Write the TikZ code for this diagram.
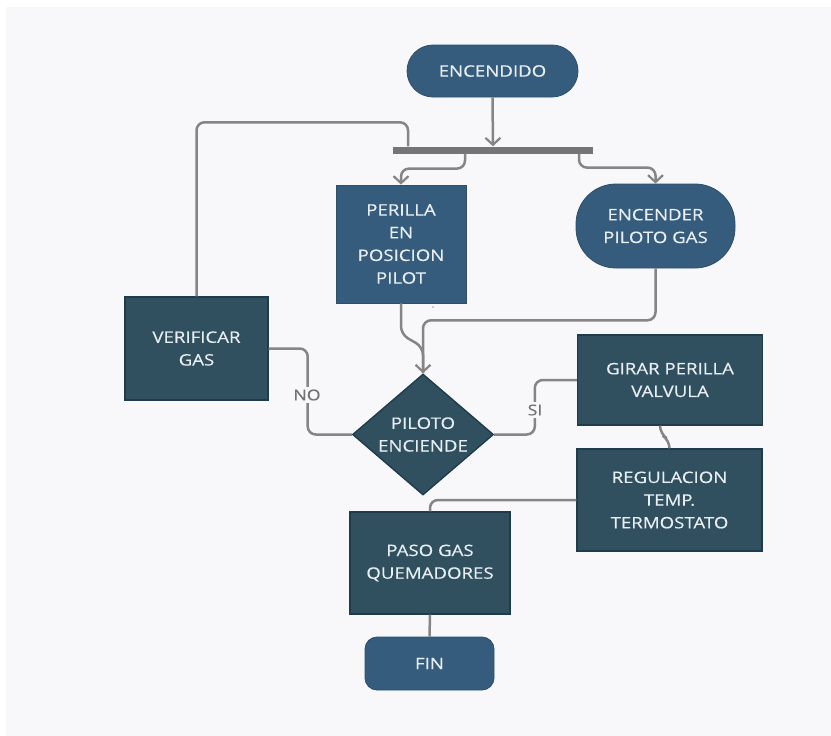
\documentclass[tikz,border=0pt]{standalone}
\usepackage{fontspec}
\setmainfont{Open Sans}[FakeStretch=1.18,FakeBold=0.3]
\usetikzlibrary{arrows.meta,shapes.geometric}
\definecolor{bgc}{HTML}{F8F8FB}
\definecolor{nblue}{HTML}{365C7D}
\definecolor{nteal}{HTML}{30505F}
\definecolor{nborder}{HTML}{203C4B}
\definecolor{lgray}{HTML}{858585}
\definecolor{ntext}{HTML}{E8EEF2}
\tikzset{
  txt/.style={text=ntext, font=\fontsize{15.8}{22.7}\selectfont, align=center, inner sep=0pt},
  bluebox/.style={txt, rectangle, fill=nblue, draw=nblue!85!black, line width=0.8pt},
  tealbox/.style={txt, rectangle, fill=nteal, draw=nborder, line width=1.4pt},
  conn/.style={draw=lgray, line width=2.5pt, rounded corners=8pt},
  arr/.style={-{Straight Barb[length=7pt,width=15pt,line width=2.2pt]}},
  lbl/.style={text=lgray!85!black, font=\fontsize{15}{17}\selectfont, fill=bgc, inner sep=2pt}
}
\begin{document}
\begin{tikzpicture}[x=1pt,y=-1pt]
\useasboundingbox (0,0) rectangle (831,736);
\fill[white] (0,0) rectangle (831,736);
\fill[bgc] (6,7) rectangle (831,736);

\node[bluebox, minimum width=171pt, minimum height=52pt, rounded corners=26pt] (enc) at (492.5,71) {ENCENDIDO};
\node[rectangle, fill=lgray!88!black, minimum width=200pt, minimum height=7pt, inner sep=0pt] (bar) at (493,150) {};
\node[bluebox, minimum width=130pt, minimum height=118pt] (per) at (401,244) {PERILLA\\EN\\POSICION\\PILOT};
\node[bluebox, minimum width=159pt, minimum height=84pt, rounded corners=40pt] (enc2) at (655.5,226) {ENCENDER\\PILOTO GAS};
\node[tealbox, minimum width=143pt, minimum height=103pt] (ver) at (196.5,348.5) {VERIFICAR\\GAS};
\node[tealbox, diamond, aspect=1.165, minimum width=141pt, minimum height=121pt] (dia) at (423,434.5) {PILOTO\\ENCIENDE};
\node[tealbox, minimum width=185pt, minimum height=90pt] (gir) at (670,380) {GIRAR PERILLA\\VALVULA};
\node[tealbox, minimum width=185pt, minimum height=102pt] (reg) at (669.5,500) {REGULACION\\TEMP.\\TERMOSTATO};
\node[tealbox, minimum width=160pt, minimum height=102pt] (paso) at (430,563) {PASO GAS\\QUEMADORES};
\node[bluebox, minimum width=129pt, minimum height=53pt, rounded corners=12pt] (fin) at (429.5,663.5) {FIN};
\node[text=lgray, font=\fontsize{8}{8}\selectfont, inner sep=0pt] (dot) at (433,307) {.};

\draw[conn,arr] (enc.south) -- (bar.north);
\draw[conn,arr] ([xshift=-28pt]bar.south) |- ([yshift=16pt]per.north) -- (per.north);
\draw[conn,arr] ([xshift=86pt]bar.south) |- ([yshift=16pt]enc2.north) -- (enc2.north);
\draw[conn] (ver.north) |- ([xshift=-85pt,yshift=24pt]bar.north) -- ([xshift=-85pt]bar.north);
\draw[conn] (per.south) -- ++(0,31) -- (dia.north |- 0,347) -- (dia.north);
\draw[conn,arr] (enc2.south) |- ([yshift=53pt]dia.north) -- (dia.north);
\draw[conn] (dia.west) -| ([xshift=39pt]ver.east) -- (ver.east);
\draw[conn] (dia.east) -| ([xshift=-42pt]gir.west) -- (gir.west);
\draw[conn] ([xshift=-10pt]gir.south) -- ++(0,8) -- ([yshift=8pt]reg.north) -- (reg.north);
\draw[conn] (reg.west) -| (paso.north);
\draw[conn] (paso.south) -- (fin.north);

\node[lbl] (no) at (307,395) {NO};
\node[lbl] (si) at (535,410) {SI};
\end{tikzpicture}
\end{document}
